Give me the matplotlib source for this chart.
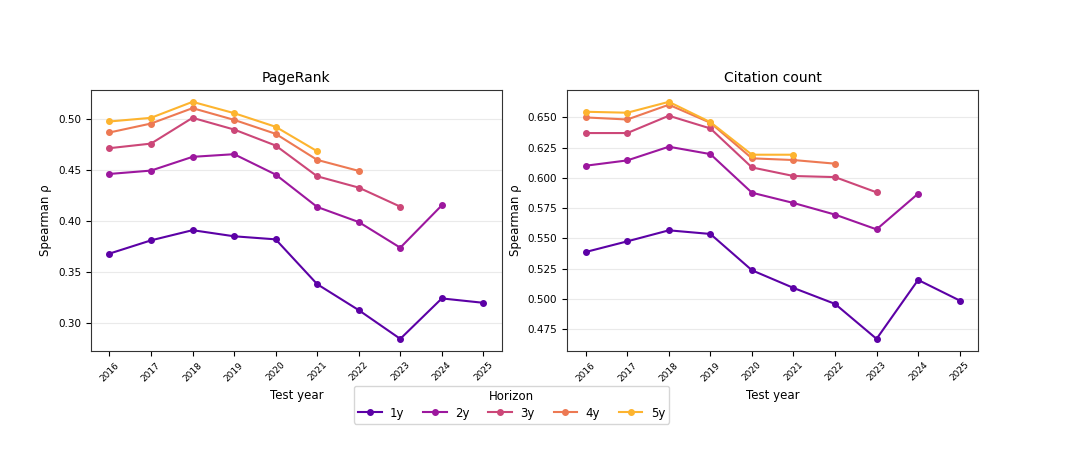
import matplotlib
matplotlib.use("Agg")
import matplotlib.pyplot as plt
import numpy as np

years = [2016, 2017, 2018, 2019, 2020, 2021, 2022, 2023, 2024, 2025]
horizons = ["1y", "2y", "3y", "4y", "5y"]

# PageRank: Spearman rho per horizon (series shorten as horizon grows)
pagerank = {
    "1y": [0.368, 0.381, 0.391, 0.385, 0.382, 0.338, 0.3125, 0.2843, 0.324, 0.3197],
    "2y": [0.4462, 0.4495, 0.463, 0.4656, 0.4456, 0.4138, 0.399, 0.3738, 0.4154],
    "3y": [0.4715, 0.476, 0.5013, 0.4898, 0.4741, 0.4439, 0.4328, 0.4141],
    "4y": [0.4869, 0.4957, 0.5108, 0.4993, 0.4856, 0.460, 0.4492],
    "5y": [0.4977, 0.5013, 0.517, 0.5059, 0.4925, 0.4685],
}

# Citation count
citations = {
    "1y": [0.5388, 0.5476, 0.5567, 0.5537, 0.5237, 0.5091, 0.4959, 0.467, 0.5157, 0.4987],
    "2y": [0.6101, 0.6145, 0.6258, 0.6197, 0.5878, 0.5793, 0.5697, 0.5575, 0.587],
    "3y": [0.6371, 0.6371, 0.6514, 0.6409, 0.6087, 0.6016, 0.6007, 0.5881],
    "4y": [0.650, 0.6483, 0.6605, 0.6456, 0.6162, 0.6148, 0.6118],
    "5y": [0.6547, 0.6539, 0.6629, 0.6461, 0.6192, 0.6192],
}

cmap = plt.get_cmap("plasma")
colors = [cmap(v) for v in np.linspace(0, 1, len(horizons) + 2)[1:-1]]

fig, axes = plt.subplots(1, 2, figsize=(10.69, 4.54), dpi=100)
fig.subplots_adjust(left=0.0849, right=0.9152, top=0.8018, bottom=0.2275, wspace=0.158)

for ax, data, title in zip(axes, [pagerank, citations], ["PageRank", "Citation count"]):
    for h, c in zip(horizons, colors):
        vals = data[h]
        ax.plot(years[:len(vals)], vals, marker="o", markersize=4, linewidth=1.5,
                color=c, label=h)
    ax.set_title(title, fontsize=10)
    ax.set_xlabel("Test year", fontsize=8.5)
    ax.set_ylabel("Spearman ρ", fontsize=8.5)
    ax.set_xticks(years)
    ax.set_xticklabels([str(y) for y in years], rotation=45, fontsize=6.5)
    ax.tick_params(axis="y", labelsize=7.5)
    ax.grid(axis="y", color="#dddddd", linewidth=0.8, alpha=0.6)
    for s in ax.spines.values():
        s.set_color("#333333")

handles, labels = axes[0].get_legend_handles_labels()
fig.legend(handles, labels, title="Horizon", ncol=5, loc="upper center",
           bbox_to_anchor=(0.4785, 0.163), fontsize=8.5, title_fontsize=8.5,
           frameon=True, borderpad=0.35, labelspacing=0.3, handletextpad=0.7,
           columnspacing=1.6)

fig.savefig("out.png", dpi=100)
